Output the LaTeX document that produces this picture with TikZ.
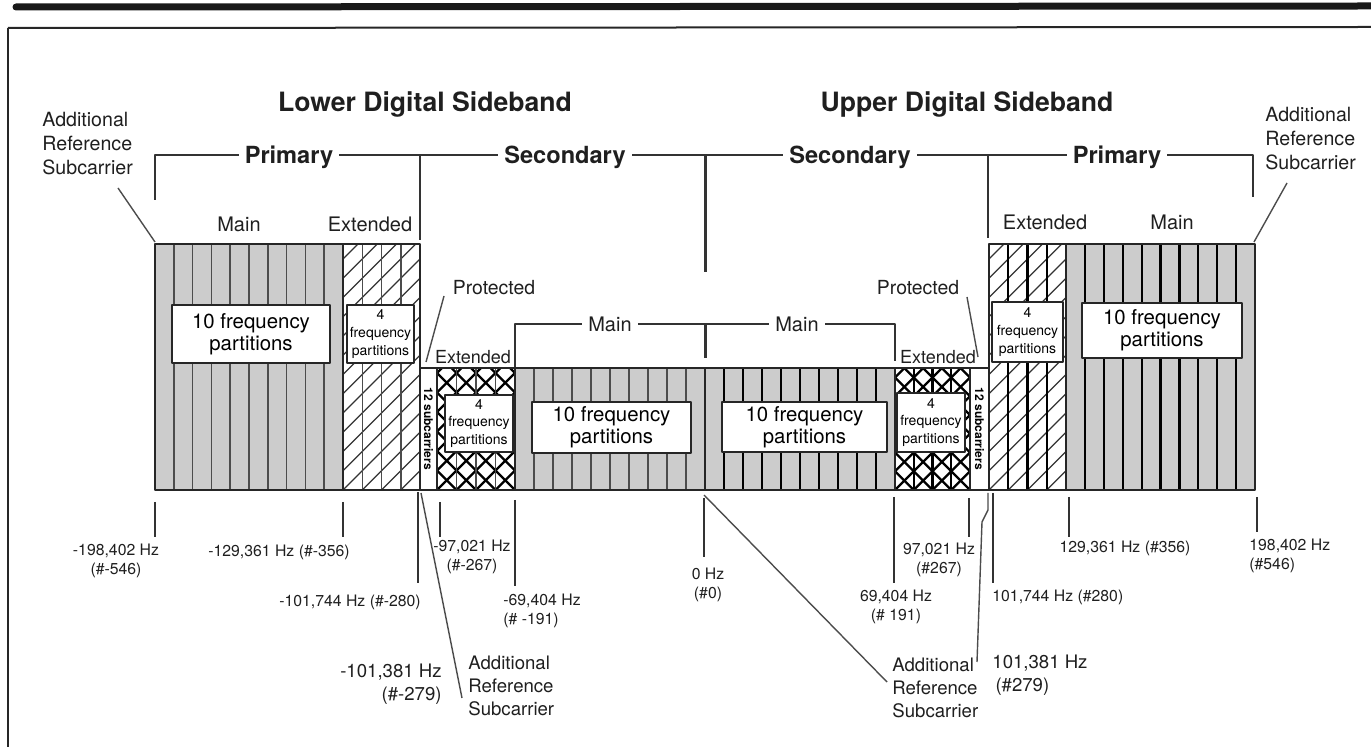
\documentclass[tikz,border=0pt]{standalone}
\usepackage{fontspec}
\setmainfont{TeX Gyre Heros}

\begin{document}
\begin{tikzpicture}[
  x=0.5pt, y=-0.5pt,
  line join=round,
  hdr/.style={text=black!88, inner sep=0pt, font=\fontsize{13.3}{16}\selectfont\bfseries},
  grp/.style={text=black!88, fill=white, inner xsep=3pt, inner ysep=1pt,
              font=\fontsize{11.8}{14}\selectfont\bfseries},
  sub/.style={text=black!88, inner sep=0pt, font=\fontsize{10}{12}\selectfont},
  note/.style={text=black!88, inner sep=0pt, align=left, font=\fontsize{9.3}{11.4}\selectfont},
  freq/.style={text=black!88, inner sep=0pt, align=center, font=\fontsize{7.9}{9.5}\selectfont},
  bigbox/.style={draw=black!85, line width=0.8pt, fill=white, inner sep=0pt, align=center,
                 font=\fontsize{10.2}{11.2}\selectfont},
  smallbox/.style={draw=black!85, line width=0.8pt, fill=white, inner sep=0pt, align=center,
                   font=\fontsize{7}{8.8}\selectfont},
  prot/.style={inner sep=0pt, rotate=-90, font=\fontsize{6}{7}\selectfont\bfseries},
  brk/.style={draw=black!80, line width=1pt},
  tick/.style={draw=black!80, line width=1pt},
  leader/.style={draw=black!70, line width=0.7pt},
  frame/.style={draw=black!85, line width=0.9pt},
  grayband/.style={fill=black!20},
  partlo/.style={draw=black!70, line width=0.75pt},
  partup/.style={draw=black, line width=1.1pt},
  hatch/.style={draw=black!80, line width=0.6pt},
  xhatch/.style={draw=black, line width=1.2pt},
]
  \useasboundingbox (0,0) rectangle (1371,747);

  % page frame
  \draw[line width=3.5pt, black!90, line cap=round] (16,7) -- (1371,6);
  \draw[line width=1pt, black!85] (8,28) -- (1371,27);
  \draw[line width=1pt, black!85] (8,28) -- (8,747);

  % headings
  \node[hdr] (lowSB) at (425,104) {Lower Digital Sideband};
  \node[hdr] (upSB) at (967,104) {Upper Digital Sideband};

  % outer reference subcarriers
  \node[note, anchor=west, font=\fontsize{9.8}{12}\selectfont] (refTL) at (42,144)
    {Additional\\Reference\\Subcarrier};
  \node[note, anchor=west, font=\fontsize{9.8}{12}\selectfont] (refTR) at (1265,139)
    {Additional\\Reference\\Subcarrier};
  \coordinate (ldTL) at (118,188);
  \coordinate (ldTR) at (1287,183);

  % group brackets
  \draw[brk] (155,200) -- (155,155) -- (1253,155) -- (1253,197);
  \draw[brk, line width=1.3pt] (420,155) -- (420,240);
  \draw[brk, line width=1.5pt] (705,155) -- (705,272);
  \draw[brk, line width=1.3pt] (988,155) -- (988,238);
  \node[grp] (priL) at (289,157) {Primary};
  \node[grp] (secL) at (565,157) {Secondary};
  \node[grp] (secU) at (850,157) {Secondary};
  \node[grp] (priU) at (1117,157) {Primary};

  \node[sub] (mainPL) at (239,224) {Main};
  \node[sub] (extPL) at (370,224) {Extended};
  \node[sub] (extPU) at (1045,222) {Extended};
  \node[sub] (mainPU) at (1172,222) {Main};

  % lower primary: main
  \fill[grayband] (155,244) rectangle (343,490);
  \foreach \i in {1,...,9}
    \draw[partlo] ({155+18.8*\i},244) -- ++(0,246);
  % lower primary: extended
  \begin{scope}
    \clip (343,244) rectangle (420,490);
    \foreach \k in {-13,...,4}
      \draw[hatch] ({343+19.25*\k},490) -- ++(300,-300);
  \end{scope}
  \foreach \i in {1,2,3}
    \draw[partlo] ({343+19.25*\i},244) -- ++(0,246);

  % lower secondary: extended
  \begin{scope}
    \clip (437,368) rectangle (515,490);
    \foreach \k in {-7,...,11} {
      \draw[xhatch] ({437+19.5*\k},490) -- ++(150,-150);
      \draw[xhatch] ({437+19.5*\k},490) -- ++(-150,-150);
    }
  \end{scope}
  \foreach \i in {1,2,3}
    \draw[partlo] ({437+19.5*\i},368) -- ++(0,122);
  % lower secondary: main
  \fill[grayband] (515,368) rectangle (705,490);
  \foreach \i in {1,...,9}
    \draw[partlo] ({515+19*\i},368) -- ++(0,122);

  % upper secondary: main
  \fill[grayband] (705,368) rectangle (895,490);
  \foreach \i in {1,...,9}
    \draw[partup] ({705+19*\i},368) -- ++(0,122);
  % upper secondary: extended
  \begin{scope}
    \clip (895,368) rectangle (970,490);
    \foreach \k in {-7,...,11} {
      \draw[xhatch] ({895+18.75*\k},490) -- ++(150,-150);
      \draw[xhatch] ({895+18.75*\k},490) -- ++(-150,-150);
    }
  \end{scope}
  \foreach \i in {1,2,3}
    \draw[partup] ({895+18.75*\i},368) -- ++(0,122);

  % upper primary: extended
  \begin{scope}
    \clip (989,244) rectangle (1066,490);
    \foreach \k in {-13,...,4}
      \draw[hatch] ({989+19.25*\k},490) -- ++(300,-300);
  \end{scope}
  \foreach \i in {1,2,3}
    \draw[partup] ({989+19.25*\i},244) -- ++(0,246);
  % upper primary: main
  \fill[grayband] (1066,244) rectangle (1255,490);
  \foreach \i in {1,...,9}
    \draw[partup] ({1066+18.9*\i},244) -- ++(0,246);

  % band outlines
  \draw[frame] (155,244) rectangle (420,490);
  \draw[frame] (989,244) rectangle (1255,490);
  \draw[frame] (420,368) rectangle (989,490);
  \foreach \x in {343,1066}
    \draw[frame] (\x,244) -- (\x,490);
  \foreach \x in {437,515,705,895,970}
    \draw[frame] (\x,368) -- (\x,490);

  % protected subcarriers
  \node[prot] (pcL) at (428.5,429) {12 subcarriers};
  \node[prot] (pcU) at (979.5,429) {12 subcarriers};

  % partition boxes
  \node[bigbox, minimum width=79pt, minimum height=29pt] (boxPL) at (251,334)
    {10 frequency\\partitions};
  \node[smallbox, minimum width=33.5pt, minimum height=29pt] (boxPLx) at (380.5,334)
    {4\\frequency\\partitions};
  \node[smallbox, minimum width=34pt, minimum height=28.5pt] (boxSLx) at (479,423.5)
    {4\\frequency\\partitions};
  \node[bigbox, minimum width=79.5pt, minimum height=25.5pt] (boxSL) at (611.5,427.5)
    {10 frequency\\partitions};
  \node[bigbox, minimum width=82.5pt, minimum height=25pt] (boxSU) at (804.5,427)
    {10 frequency\\partitions};
  \node[smallbox, minimum width=34pt, minimum height=29.5pt] (boxSUx) at (931,422.5)
    {4\\frequency\\partitions};
  \node[smallbox, minimum width=35.5pt, minimum height=30pt] (boxPUx) at (1027.5,332)
    {4\\frequency\\partitions};
  \node[bigbox, minimum width=80pt, minimum height=27.5pt] (boxPU) at (1162,330.5)
    {10 frequency\\partitions};

  % secondary main bracket
  \draw[brk] (515,367) -- (515,324) -- (895,324) -- (895,361);
  \draw[brk, line width=1.5pt] (705,324) -- (705,358);
  \node[grp, font=\fontsize{10}{12}\selectfont] (mainSL) at (610,324) {Main};
  \node[grp, font=\fontsize{10}{12}\selectfont] (mainSU) at (797,324) {Main};
  \node[sub, font=\fontsize{9}{11}\selectfont] (extSL) at (473,357) {Extended};
  \node[sub, font=\fontsize{9}{11}\selectfont] (extSU) at (938,357) {Extended};

  % protected labels
  \node[sub, font=\fontsize{9.7}{11}\selectfont] (protL) at (494,288) {Protected};
  \node[sub, font=\fontsize{9.7}{11}\selectfont] (protU) at (918,288) {Protected};
  \coordinate (pL1) at (444,296);
  \coordinate (pL2) at (426,362);
  \coordinate (pU1) at (967,297);
  \coordinate (pU2) at (978,357);
  \draw[leader] (pL1) -- (pL2);
  \draw[leader] (pU1) -- (pU2);

  % outer reference leaders
  \coordinate (rTL) at (155,242);
  \coordinate (rTR) at (1254,242);
  \draw[leader] (ldTL) -- (rTL);
  \draw[leader] (ldTR) -- (rTR);

  % frequency marks
  \foreach \x/\a/\b in {155/502/537, 343/502/537, 418/492/583, 440/502/537, 515/500/586,
                        704/498/557, 894/497/583, 969/498/537, 993/493/583,
                        1069/497/537, 1257/497/532}
    \draw[tick] (\x,\a) -- (\x,\b);

  % frequency labels, lower sideband
  \node[freq] (f546L) at (116,561) {-198,402 Hz\\(\#-546)};
  \node[freq] (f356L) at (279,552) {-129,361 Hz (\#-356)};
  \node[freq] (f280L) at (350,602) {-101,744 Hz (\#-280)};
  \node[note, align=right, anchor=east] (f279L) at (442,684) {-101,381 Hz\\(\#-279)};
  \node[freq] (f267L) at (472,557) {-97,021 Hz\\(\#-267)};
  \node[freq, align=left, anchor=west] (f191L) at (503,611) {-69,404 Hz\\(\# -191)};
  \node[note, anchor=west] (refBL) at (468,686) {Additional\\Reference\\Subcarrier};

  % frequency labels, upper sideband
  \node[freq] (f0) at (708,585) {0 Hz\\(\#0)};
  \node[freq] (f191U) at (896,607) {69,404 Hz\\(\# 191)};
  \node[freq] (f267U) at (939,560) {97,021 Hz\\(\#267)};
  \node[freq, anchor=west] (f280U) at (992,597) {101,744 Hz (\#280)};
  \node[note, anchor=west] (f279U) at (992,675) {101,381 Hz\\\,(\#279)};
  \node[note, anchor=west] (refBU) at (892,688) {Additional\\Reference\\Subcarrier};
  \node[freq] (f356U) at (1125,548) {129,361 Hz (\#356)};
  \node[freq, align=left, anchor=west] (f546U) at (1249,556) {198,402 Hz\\(\#546)};

  % inner reference leaders
  \coordinate (s279L) at (421,493);
  \coordinate (e279L) at (462,698);
  \coordinate (s0) at (704,495);
  \coordinate (e0) at (887,682);
  \coordinate (s279U) at (988,493);
  \coordinate (e279U) at (977,662);
  \draw[leader] (s279L) -- (e279L);
  \draw[leader] (s0) -- (e0);
  \draw[leader] (s279U) -- ++(0,17) -- ++(-6,12) -- (e279U);
\end{tikzpicture}
\end{document}
